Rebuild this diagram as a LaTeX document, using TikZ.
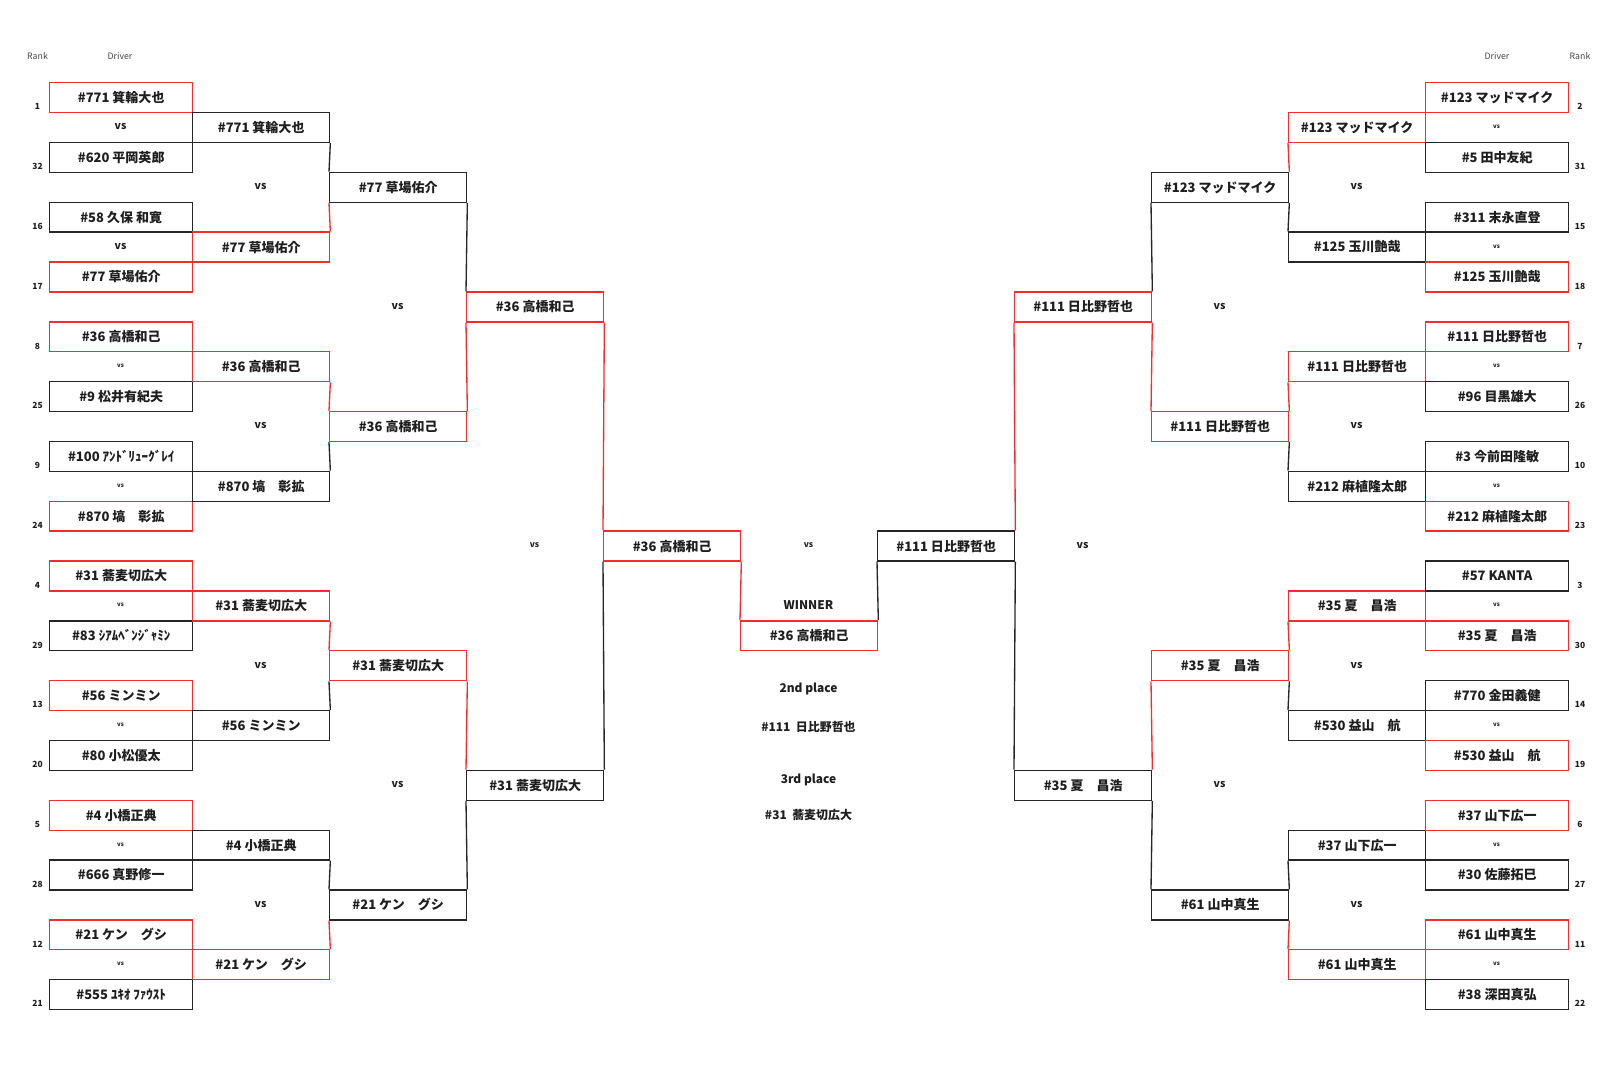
\documentclass[tikz,border=0pt]{standalone}
\usepackage{fontspec}
\setmainfont{Noto Sans CJK JP}
\usepackage{tikz}
\usetikzlibrary{positioning}
\definecolor{WinRed}{HTML}{F42C2C}
\definecolor{LoseInk}{HTML}{262626}
\definecolor{TextInk}{HTML}{1E1E1E}
\definecolor{HeadGrey}{HTML}{454545}
\tikzset{
  % Bracket slot: one row high, fixed width
  slot/.style={
    rectangle, draw=#1, line width=1.9pt, inner sep=0pt,
    anchor=north west, minimum width=68.5mm, minimum height=14.95mm,
    font=\fontsize{18.5}{20}\selectfont\bfseries, text=TextInk
  },
  % First round slot, a little wider
  seed/.style={slot=#1, minimum width=71.5mm},
  % Connector between rounds
  link/.style={line width=1.9pt, color=#1},
  % vs labels in three sizes
  vsl/.style={font=\fontsize{15}{16}\selectfont\bfseries, text=TextInk},
  vsm/.style={font=\fontsize{12}{13}\selectfont\bfseries, text=TextInk},
  vss/.style={font=\fontsize{8.5}{9}\selectfont\bfseries, text=TextInk},
  % Rank number
  rk/.style={font=\fontsize{12}{13}\selectfont\bfseries, text=TextInk},
  % Column head
  hdr/.style={font=\fontsize{12.5}{13}\selectfont, text=HeadGrey},
  % Result label
  res/.style={font=\fontsize{17}{18}\selectfont\bfseries, text=TextInk}
}

\begin{document}
\begin{tikzpicture}[x=0.5mm, y=-14.95mm]
  \useasboundingbox (0,-2.742) rectangle (1620,33.378);

  % heads
  \node[hdr] (lrank)   at (37.5,-0.88)  {Rank};
  \node[hdr] (ldriver) at (120,-0.88)   {Driver};
  \node[hdr] (rdriver) at (1497,-0.88)  {Driver};
  \node[hdr] (rrank)   at (1580,-0.88)  {Rank};

  % left, round 1
  \node[seed=WinRed]  (l1a) at (49,0)  {\#771 箕輪大也};
  \node[seed=LoseInk] (l1b) at (49,2)  {\#620 平岡英郎};
  \node[seed=LoseInk] (l1c) at (49,4)  {\#58 久保 和寛};
  \node[seed=WinRed]  (l1d) at (49,6)  {\#77 草場佑介};
  \node[seed=WinRed]  (l1e) at (49,8)  {\#36 高橋和己};
  \node[seed=LoseInk] (l1f) at (49,10) {\#9 松井有紀夫};
  \node[seed=LoseInk] (l1g) at (49,12) {\#100 ｱﾝﾄﾞﾘｭｰｸﾞﾚｲ};
  \node[seed=WinRed]  (l1h) at (49,14) {\#870 塙　彰拡};
  \node[seed=WinRed]  (l1i) at (49,16) {\#31 蕎麦切広大};
  \node[seed=LoseInk] (l1j) at (49,18) {\#83 ｼｱﾑﾍﾞﾝｼﾞｬﾐﾝ};
  \node[seed=WinRed]  (l1k) at (49,20) {\#56 ミンミン};
  \node[seed=LoseInk] (l1l) at (49,22) {\#80 小松優太};
  \node[seed=WinRed]  (l1m) at (49,24) {\#4 小橋正典};
  \node[seed=LoseInk] (l1n) at (49,26) {\#666 真野修一};
  \node[seed=WinRed]  (l1o) at (49,28) {\#21 ケン　グシ};
  \node[seed=LoseInk] (l1p) at (49,30) {\#555 ﾕｷｵ ﾌｧｳｽﾄ};

  \node[rk] (lk1)  at (37.5,0.83)  {1};
  \node[rk] (lk2)  at (37.5,2.83)  {32};
  \node[rk] (lk3)  at (37.5,4.83)  {16};
  \node[rk] (lk4)  at (37.5,6.83)  {17};
  \node[rk] (lk5)  at (37.5,8.83)  {8};
  \node[rk] (lk6)  at (37.5,10.83) {25};
  \node[rk] (lk7)  at (37.5,12.83) {9};
  \node[rk] (lk8)  at (37.5,14.83) {24};
  \node[rk] (lk9)  at (37.5,16.83) {4};
  \node[rk] (lk10) at (37.5,18.83) {29};
  \node[rk] (lk11) at (37.5,20.83) {13};
  \node[rk] (lk12) at (37.5,22.83) {20};
  \node[rk] (lk13) at (37.5,24.83) {5};
  \node[rk] (lk14) at (37.5,26.83) {28};
  \node[rk] (lk15) at (37.5,28.83) {12};
  \node[rk] (lk16) at (37.5,30.83) {21};

  \node[vsl] (lv1a) at (120.5,1.5)  {vs};
  \node[vsl] (lv1b) at (120.5,5.5)  {vs};
  \node[vss] (lv1c) at (120.5,9.5)  {vs};
  \node[vss] (lv1d) at (120.5,13.5) {vs};
  \node[vss] (lv1e) at (120.5,17.5) {vs};
  \node[vss] (lv1f) at (120.5,21.5) {vs};
  \node[vss] (lv1g) at (120.5,25.5) {vs};
  \node[vss] (lv1h) at (120.5,29.5) {vs};

  % left, round 2
  \node[slot=LoseInk] (l2a) at (192,1)  {\#771 箕輪大也};
  \node[slot=WinRed]  (l2b) at (192,5)  {\#77 草場佑介};
  \node[slot=WinRed]  (l2c) at (192,9)  {\#36 高橋和己};
  \node[slot=LoseInk] (l2d) at (192,13) {\#870 塙　彰拡};
  \node[slot=WinRed]  (l2e) at (192,17) {\#31 蕎麦切広大};
  \node[slot=LoseInk] (l2f) at (192,21) {\#56 ミンミン};
  \node[slot=LoseInk] (l2g) at (192,25) {\#4 小橋正典};
  \node[slot=WinRed]  (l2h) at (192,29) {\#21 ケン　グシ};

  \node[vsl] (lv2a) at (260.5,3.5)  {vs};
  \node[vsl] (lv2b) at (260.5,11.5) {vs};
  \node[vsl] (lv2c) at (260.5,19.5) {vs};
  \node[vsl] (lv2d) at (260.5,27.5) {vs};

  % left, round 3
  \node[slot=LoseInk] (l3a) at (329,3)  {\#77 草場佑介};
  \node[slot=WinRed]  (l3b) at (329,11) {\#36 高橋和己};
  \node[slot=WinRed]  (l3c) at (329,19) {\#31 蕎麦切広大};
  \node[slot=LoseInk] (l3d) at (329,27) {\#21 ケン　グシ};

  \node[vsl] (lv3a) at (397.5,7.5)  {vs};
  \node[vsl] (lv3b) at (397.5,23.5) {vs};

  % left, round 4 and final
  \node[slot=WinRed]  (l4a) at (466,7)  {\#36 高橋和己};
  \node[slot=LoseInk] (l4b) at (466,23) {\#31 蕎麦切広大};
  \node[vsm] (lv4) at (534.5,15.5) {vs};

  \node[slot=WinRed]  (lfin)  at (603,15) {\#36 高橋和己};
  \node[slot=WinRed]  (champ) at (740,18) {\#36 高橋和己};
  \node[slot=LoseInk] (rfin)  at (877,15) {\#111 日比野哲也};
  \node[vsm] (vfin) at (808.5,15.5) {vs};

  % results
  \node[res] (wintag)  at (808.5,17.51) {WINNER};
  \node[res] (second)  at (808.5,20.31) {2nd place};
  \node[res] (secname) at (808.5,21.56) {\#111\ \ 日比野哲也};
  \node[res] (third)   at (808.5,23.34) {3rd place};
  \node[res] (thiname) at (808.5,24.52) {\#31\ \ 蕎麦切広大};

  % right, round 4
  \node[slot=WinRed]  (r4a) at (1014,7)  {\#111 日比野哲也};
  \node[slot=LoseInk] (r4b) at (1014,23) {\#35 夏　昌浩};
  \node[vsl] (rv4) at (1082.5,15.5) {vs};

  % right, round 3
  \node[slot=LoseInk] (r3a) at (1151,3)  {\#123 マッドマイク};
  \node[slot=WinRed]  (r3b) at (1151,11) {\#111 日比野哲也};
  \node[slot=WinRed]  (r3c) at (1151,19) {\#35 夏　昌浩};
  \node[slot=LoseInk] (r3d) at (1151,27) {\#61 山中真生};

  \node[vsl] (rv3a) at (1219.5,7.5)  {vs};
  \node[vsl] (rv3b) at (1219.5,23.5) {vs};

  % right, round 2
  \node[slot=WinRed]  (r2a) at (1288,1)  {\#123 マッドマイク};
  \node[slot=LoseInk] (r2b) at (1288,5)  {\#125 玉川艶哉};
  \node[slot=WinRed]  (r2c) at (1288,9)  {\#111 日比野哲也};
  \node[slot=LoseInk] (r2d) at (1288,13) {\#212 麻植隆太郎};
  \node[slot=WinRed]  (r2e) at (1288,17) {\#35 夏　昌浩};
  \node[slot=LoseInk] (r2f) at (1288,21) {\#530 益山　航};
  \node[slot=LoseInk] (r2g) at (1288,25) {\#37 山下広一};
  \node[slot=WinRed]  (r2h) at (1288,29) {\#61 山中真生};

  \node[vsl] (rv2a) at (1356.5,3.5)  {vs};
  \node[vsl] (rv2b) at (1356.5,11.5) {vs};
  \node[vsl] (rv2c) at (1356.5,19.5) {vs};
  \node[vsl] (rv2d) at (1356.5,27.5) {vs};

  % right, round 1
  \node[seed=WinRed]  (r1a) at (1425,0)  {\#123 マッドマイク};
  \node[seed=LoseInk] (r1b) at (1425,2)  {\#5 田中友紀};
  \node[seed=LoseInk] (r1c) at (1425,4)  {\#311 末永直登};
  \node[seed=WinRed]  (r1d) at (1425,6)  {\#125 玉川艶哉};
  \node[seed=WinRed]  (r1e) at (1425,8)  {\#111 日比野哲也};
  \node[seed=LoseInk] (r1f) at (1425,10) {\#96 目黒雄大};
  \node[seed=LoseInk] (r1g) at (1425,12) {\#3 今前田隆敏};
  \node[seed=WinRed]  (r1h) at (1425,14) {\#212 麻植隆太郎};
  \node[seed=LoseInk] (r1i) at (1425,16) {\#57 KANTA};
  \node[seed=WinRed]  (r1j) at (1425,18) {\#35 夏　昌浩};
  \node[seed=LoseInk] (r1k) at (1425,20) {\#770 金田義健};
  \node[seed=WinRed]  (r1l) at (1425,22) {\#530 益山　航};
  \node[seed=WinRed]  (r1m) at (1425,24) {\#37 山下広一};
  \node[seed=LoseInk] (r1n) at (1425,26) {\#30 佐藤拓巳};
  \node[seed=WinRed]  (r1o) at (1425,28) {\#61 山中真生};
  \node[seed=LoseInk] (r1p) at (1425,30) {\#38 深田真弘};

  \node[rk] (rk1)  at (1580,0.83)  {2};
  \node[rk] (rk2)  at (1580,2.83)  {31};
  \node[rk] (rk3)  at (1580,4.83)  {15};
  \node[rk] (rk4)  at (1580,6.83)  {18};
  \node[rk] (rk5)  at (1580,8.83)  {7};
  \node[rk] (rk6)  at (1580,10.83) {26};
  \node[rk] (rk7)  at (1580,12.83) {10};
  \node[rk] (rk8)  at (1580,14.83) {23};
  \node[rk] (rk9)  at (1580,16.83) {3};
  \node[rk] (rk10) at (1580,18.83) {30};
  \node[rk] (rk11) at (1580,20.83) {14};
  \node[rk] (rk12) at (1580,22.83) {19};
  \node[rk] (rk13) at (1580,24.83) {6};
  \node[rk] (rk14) at (1580,26.83) {27};
  \node[rk] (rk15) at (1580,28.83) {11};
  \node[rk] (rk16) at (1580,30.83) {22};

  \node[vss] (rv1a) at (1496.5,1.5)  {vs};
  \node[vss] (rv1b) at (1496.5,5.5)  {vs};
  \node[vss] (rv1c) at (1496.5,9.5)  {vs};
  \node[vss] (rv1d) at (1496.5,13.5) {vs};
  \node[vss] (rv1e) at (1496.5,17.5) {vs};
  \node[vss] (rv1f) at (1496.5,21.5) {vs};
  \node[vss] (rv1g) at (1496.5,25.5) {vs};
  \node[vss] (rv1h) at (1496.5,29.5) {vs};

  % left connectors
  \draw[link=LoseInk] (l2a.south east) -- (l3a.north west);
  \draw[link=WinRed]  (l2b.north east) -- (l3a.south west);
  \draw[link=WinRed]  (l2c.south east) -- (l3b.north west);
  \draw[link=LoseInk] (l2d.north east) -- (l3b.south west);
  \draw[link=WinRed]  (l2e.south east) -- (l3c.north west);
  \draw[link=LoseInk] (l2f.north east) -- (l3c.south west);
  \draw[link=LoseInk] (l2g.south east) -- (l3d.north west);
  \draw[link=WinRed]  (l2h.north east) -- (l3d.south west);
  \draw[link=LoseInk] (l3a.south east) -- (l4a.north west);
  \draw[link=WinRed]  (l3b.north east) -- (l4a.south west);
  \draw[link=WinRed]  (l3c.south east) -- (l4b.north west);
  \draw[link=LoseInk] (l3d.north east) -- (l4b.south west);
  \draw[link=WinRed]  (l4a.south east) -- (lfin.north west);
  \draw[link=LoseInk] (l4b.north east) -- (lfin.south west);
  \draw[link=WinRed]  (lfin.south east) -- (champ.north west);

  % right connectors
  \draw[link=LoseInk] (rfin.south west) -- (champ.north east);
  \draw[link=WinRed]  (r4a.south west) -- (rfin.north east);
  \draw[link=LoseInk] (r4b.north west) -- (rfin.south east);
  \draw[link=LoseInk] (r3a.south west) -- (r4a.north east);
  \draw[link=WinRed]  (r3b.north west) -- (r4a.south east);
  \draw[link=WinRed]  (r3c.south west) -- (r4b.north east);
  \draw[link=LoseInk] (r3d.north west) -- (r4b.south east);
  \draw[link=WinRed]  (r2a.south west) -- (r3a.north east);
  \draw[link=LoseInk] (r2b.north west) -- (r3a.south east);
  \draw[link=WinRed]  (r2c.south west) -- (r3b.north east);
  \draw[link=LoseInk] (r2d.north west) -- (r3b.south east);
  \draw[link=WinRed]  (r2e.south west) -- (r3c.north east);
  \draw[link=LoseInk] (r2f.north west) -- (r3c.south east);
  \draw[link=LoseInk] (r2g.south west) -- (r3d.north east);
  \draw[link=WinRed]  (r2h.north west) -- (r3d.south east);
\end{tikzpicture}
\end{document}
